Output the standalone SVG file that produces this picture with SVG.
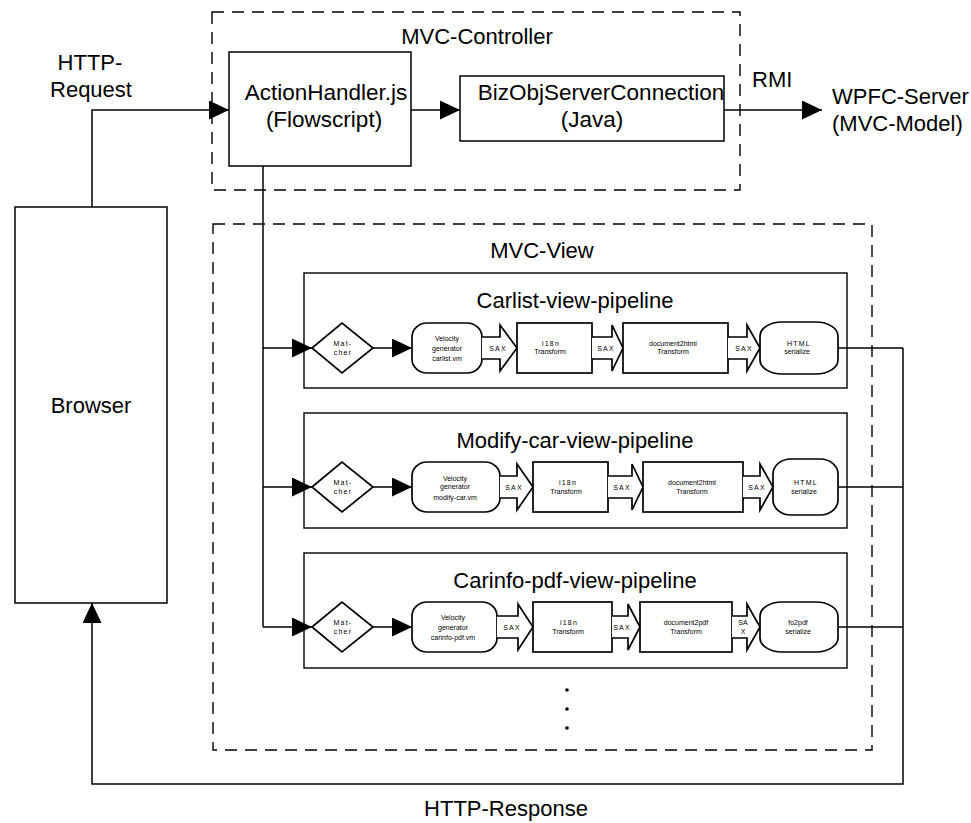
<svg xmlns="http://www.w3.org/2000/svg" width="971" height="823" viewBox="0 0 971 823">
<style>
.big{font-family:"Liberation Sans",Arial,Helvetica,sans-serif;font-size:22px;fill:#000}
.bg{font-size:22.5px}
.c{text-anchor:middle}
.sm{font-family:"Liberation Sans",Arial,Helvetica,sans-serif;font-size:7px;fill:#000;text-anchor:middle}
.box{fill:#fff;stroke:#000;stroke-width:1.5}
.pl{fill:#fff;stroke:#000;stroke-width:1.4}
.sh{fill:#fff;stroke:#000;stroke-width:1.7}
.dash{fill:none;stroke:#000;stroke-width:1.4;stroke-dasharray:12 8}
.ln{fill:none;stroke:#000;stroke-width:1.5}
.arr{fill:none;stroke:#000;stroke-width:1.5;marker-end:url(#ah)}
.sp{letter-spacing:1.2px}
</style>
<defs>
<marker id="ah" markerUnits="userSpaceOnUse" markerWidth="20" markerHeight="19" refX="20" refY="9.5" orient="auto">
<path d="M0,0 L20,9.5 L0,19 z" fill="#000"/>
</marker>
</defs>
<rect width="971" height="823" fill="#fff"/>

<g id="controller-frame">
<rect class="dash" x="212" y="12" width="528" height="178"/>
<text class="big c" x="477" y="44">MVC-Controller</text>
</g>
<g id="view-frame">
<rect class="dash" x="213" y="224" width="659" height="526"/>
<text class="big c" x="542" y="258">MVC-View</text>
</g>

<g id="pipeline-carlist">
<rect class="pl" x="304" y="273" width="543" height="115"/>
<text class="big c" x="575" y="308">Carlist-view-pipeline</text>
</g>
<g id="pipeline-modify">
<rect class="pl" x="304" y="413" width="543" height="115"/>
<text class="big c" x="575" y="448">Modify-car-view-pipeline</text>
</g>
<g id="pipeline-carinfo">
<rect class="pl" x="304" y="553" width="543" height="115"/>
<text class="big c" x="575" y="588">Carinfo-pdf-view-pipeline</text>
</g>

<g id="connectors">
<path class="arr" d="M92,207 V110 H229"/>
<path class="arr" d="M411,110 H460"/>
<path class="arr" d="M724,110 H822"/>
<path class="ln" d="M263,166 V627"/>
<path class="arr" d="M263,348 H312"/>
<path class="arr" d="M263,487 H312"/>
<path class="arr" d="M263,627 H312"/>
<path class="arr" d="M373,348 H412"/>
<path class="arr" d="M373,487 H412"/>
<path class="arr" d="M373,627 H412"/>
<path class="ln" d="M838,348 H903"/>
<path class="ln" d="M838,487 H903"/>
<path class="ln" d="M838,627 H903"/>
<path class="arr" d="M903,348 V784 H92 V603"/>
</g>

<g id="browser">
<rect class="box" x="15" y="207" width="152" height="396"/>
<text class="big c" x="91" y="413">Browser</text>
</g>
<g id="http-request-label">
<text class="big c" x="90" y="70">HTTP-</text>
<text class="big c" x="91" y="97">Request</text>
</g>
<g id="action-handler">
<rect class="box" x="229" y="52" width="182" height="114"/>
<text class="big bg c" x="326" y="100">ActionHandler.js</text>
<text class="big bg c" x="324" y="127">(Flowscript)</text>
</g>
<g id="bizobj">
<rect class="box" x="460" y="76" width="264" height="65"/>
<text class="big bg c" x="601" y="100">BizObjServerConnection</text>
<text class="big bg c" x="592" y="127">(Java)</text>
</g>
<g id="rmi-label"><text class="big" x="752" y="87">RMI</text></g>
<g id="wpfc-server">
<text class="big" x="832" y="104">WPFC-Server</text>
<text class="big" x="832" y="131">(MVC-Model)</text>
</g>

<!-- Row 1 -->
<g id="r1-matcher">
<polygon class="sh" points="312,348 342,323 373,348 342,373"/>
<text class="sm sp" x="343" y="346">Mat-</text>
<text class="sm sp" x="343" y="355">cher</text>
</g>
<g id="r1-generator">
<rect class="sh" x="412" y="323" width="70" height="50" rx="15" ry="14"/>
<text class="sm" x="447" y="341">Velocity</text>
<text class="sm" x="447" y="351">generator</text>
<text class="sm" x="447" y="361">carlist.vm</text>
</g>
<g id="r1-sax1"><polyline class="sh" points="482,337 500,337 500,325 517,348 500,371 500,359 482,359"/><text class="sm sp" x="498" y="351">SAX</text></g>
<g id="r1-i18n">
<rect class="sh" x="517" y="323" width="75" height="50"/>
<text class="sm sp" x="551" y="346">i18n</text>
<text class="sm" x="550" y="354">Transform</text>
</g>
<g id="r1-sax2"><polyline class="sh" points="592,337 612,337 612,325 623,348 612,371 612,359 592,359"/><text class="sm sp" x="606" y="351">SAX</text></g>
<g id="r1-doc2html">
<rect class="sh" x="623" y="323" width="105" height="50"/>
<text class="sm" x="673" y="346">document2html</text>
<text class="sm" x="673" y="354">Transform</text>
</g>
<g id="r1-sax3"><polyline class="sh" points="728,337 747,337 747,325 760,348 747,371 747,359 728,359"/><text class="sm sp" x="744" y="351">SAX</text></g>
<g id="r1-serialize">
<rect class="sh" x="760" y="322" width="78" height="52" rx="22" ry="14"/>
<text class="sm sp" x="799" y="346">HTML</text>
<text class="sm" x="797" y="354">serialize</text>
</g>

<!-- Row 2 -->
<g id="r2-matcher">
<polygon class="sh" points="312,487 342,462 373,487 342,512"/>
<text class="sm sp" x="343" y="485">Mat-</text>
<text class="sm sp" x="343" y="494">cher</text>
</g>
<g id="r2-generator">
<rect class="sh" x="412" y="462" width="88" height="50" rx="15" ry="14"/>
<text class="sm" x="455" y="481">Velocity</text>
<text class="sm" x="455" y="489">generator</text>
<text class="sm" x="455" y="500">modify-car.vm</text>
</g>
<g id="r2-sax1"><polyline class="sh" points="500,476 517,476 517,464 533,487 517,510 517,498 500,498"/><text class="sm sp" x="514" y="490">SAX</text></g>
<g id="r2-i18n">
<rect class="sh" x="533" y="462" width="75" height="50"/>
<text class="sm sp" x="568" y="485">i18n</text>
<text class="sm" x="566" y="494">Transform</text>
</g>
<g id="r2-sax2"><polyline class="sh" points="608,476 632,476 632,464 643,487 632,510 632,498 608,498"/><text class="sm sp" x="622" y="490">SAX</text></g>
<g id="r2-doc2html">
<rect class="sh" x="643" y="462" width="100" height="50"/>
<text class="sm" x="692" y="485">document2html</text>
<text class="sm" x="692" y="494">Transform</text>
</g>
<g id="r2-sax3"><polyline class="sh" points="743,476 760,476 760,464 773,487 760,510 760,498 743,498"/><text class="sm sp" x="757" y="490">SAX</text></g>
<g id="r2-serialize">
<rect class="sh" x="773" y="459" width="65" height="56" rx="18" ry="15"/>
<text class="sm sp" x="806" y="485">HTML</text>
<text class="sm" x="804" y="494">serialize</text>
</g>

<!-- Row 3 -->
<g id="r3-matcher">
<polygon class="sh" points="312,627 342,602 373,627 342,652"/>
<text class="sm sp" x="343" y="625">Mat-</text>
<text class="sm sp" x="343" y="634">cher</text>
</g>
<g id="r3-generator">
<rect class="sh" x="412" y="602" width="85" height="50" rx="15" ry="14"/>
<text class="sm" x="453" y="620">Velocity</text>
<text class="sm" x="453" y="630">generator</text>
<text class="sm" x="453" y="640">carinfo-pdf.vm</text>
</g>
<g id="r3-sax1"><polyline class="sh" points="497,616 518,616 518,604 533,627 518,650 518,638 497,638"/><text class="sm sp" x="512" y="630">SAX</text></g>
<g id="r3-i18n">
<rect class="sh" x="533" y="602" width="79" height="50"/>
<text class="sm sp" x="569" y="625">i18n</text>
<text class="sm" x="568" y="634">Transform</text>
</g>
<g id="r3-sax2"><polyline class="sh" points="612,616 628,616 628,604 640,627 628,650 628,638 612,638"/><text class="sm sp" x="622" y="630">SAX</text></g>
<g id="r3-doc2pdf">
<rect class="sh" x="640" y="602" width="92" height="50"/>
<text class="sm" x="686" y="625">document2pdf</text>
<text class="sm" x="686" y="634">Transform</text>
</g>
<g id="r3-sax3"><polyline class="sh" points="732,616 747,616 747,604 760,627 747,650 747,638 732,638"/><text class="sm" x="743" y="625">SA</text><text class="sm" x="743" y="634">X</text></g>
<g id="r3-serialize">
<rect class="sh" x="760" y="602" width="78" height="50" rx="22" ry="14"/>
<text class="sm" x="798" y="625">fo2pdf</text>
<text class="sm" x="798" y="634">serialize</text>
</g>

<g id="more-dots">
<circle cx="567" cy="690" r="1.8"/>
<circle cx="567" cy="709" r="1.8"/>
<circle cx="567" cy="728" r="1.8"/>
</g>
<g id="http-response-label">
<text class="big c" x="506" y="816">HTTP-Response</text>
</g>
</svg>
